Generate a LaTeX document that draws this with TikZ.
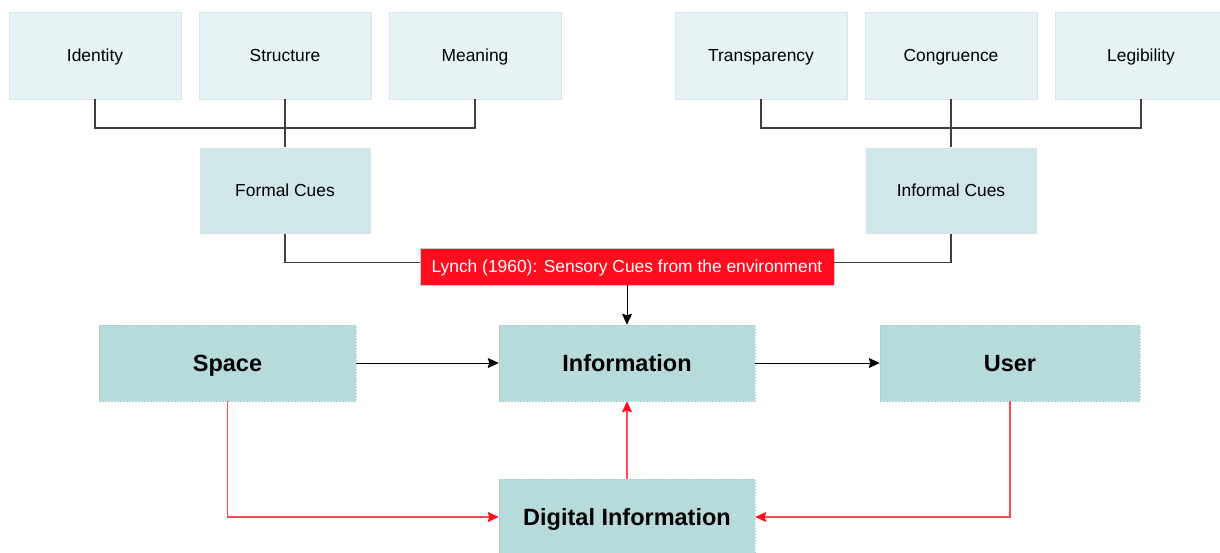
\documentclass[tikz,border=0pt]{standalone}
\usepackage{fontspec}
\setmainfont{Liberation Sans}
\usetikzlibrary{arrows.meta}
\definecolor{cuefill}{HTML}{E6F2F4}
\definecolor{cueline}{HTML}{D2E8EC}
\definecolor{groupfill}{HTML}{D0E6E9}
\definecolor{mainfill}{HTML}{B7DBDB}
\definecolor{mainline}{HTML}{A6D0D0}
\definecolor{lynchred}{HTML}{FF0D1F}
\definecolor{wire}{HTML}{404040}
\definecolor{redwire}{HTML}{FF4A55}
\tikzset{
  small text/.style={text height=12.5pt, text depth=1.5pt, font=\fontsize{17.4}{20}\selectfont},
  big text/.style={text height=16.8pt, text depth=0pt, font=\bfseries\fontsize{23.5}{27}\selectfont},
  cue/.style={draw=cueline, line width=0.8pt, fill=cuefill, minimum width=172pt, minimum height=87pt,
    inner sep=0pt, small text},
  group/.style={draw=white, line width=0.8pt, fill=groupfill, minimum width=172pt, minimum height=87pt,
    inner sep=0pt, small text},
  mainbox/.style={draw=mainline, dash pattern=on 1.5pt off 1.5pt, line width=0.5pt, fill=mainfill,
    minimum height=76pt, inner sep=0pt, big text},
  source/.style={draw=black!20, line width=0.8pt, fill=lynchred, text=white, minimum width=414pt,
    minimum height=37pt, inner sep=0pt, small text},
  tree/.style={draw=wire, line width=1.3pt},
  flow/.style={draw=black, line width=1pt, -{Stealth[length=11pt,width=10pt,inset=1.5pt]}},
  redflow/.style={draw=redwire, line width=1.2pt, -{Stealth[length=11pt,width=10pt,inset=1.5pt,color=lynchred]}}
}
\begin{document}
\begin{tikzpicture}[x=1pt,y=-1pt]
\useasboundingbox (0,0) rectangle (1220,552);

% top-level cues
\node[cue] (identity) at (95,55.5) {Identity};
\node[cue] (structure) at (285,55.5) {Structure};
\node[cue] (meaning) at (475,55.5) {Meaning};
\node[cue] (transp) at (761,55.5) {Transparency};
\node[cue] (congr) at (951,55.5) {Congruence};
\node[cue] (legib) at (1141,55.5) {Legibility};

% cue groups
\node[group] (formal) at (285,190.5) {Formal Cues};
\node[group] (informal) at (951,190.5) {Informal Cues};

% Lynch source box
\node[source] (lynch) at (627,266.5) {Lynch (1960): Sensory Cues from the environment};

% main flow boxes
\node[mainbox, minimum width=257pt] (space) at (227.5,363) {Space};
\node[mainbox, minimum width=256pt] (info) at (627,363) {Information};
\node[mainbox, minimum width=260pt] (user) at (1010,363) {User};
\node[mainbox, minimum width=256pt] (digital) at (627,517) {Digital Information};

% bus lines joining cues to their groups
\coordinate (fbus) at (285,128);
\coordinate (ibus) at (951,128);
\draw[tree] (identity.south) |- (fbus) -| (meaning.south);
\draw[tree] (structure.south) -- (formal.north);
\draw[tree] (transp.south) |- (ibus) -| (legib.south);
\draw[tree] (congr.south) -- (informal.north);

% groups to Lynch
\draw[tree] (formal.south) |- ([yshift=4pt]lynch.west);
\draw[tree] (informal.south) |- ([yshift=4pt]lynch.east);

% main flow
\draw[flow] (lynch.south) -- (info.north);
\draw[flow] (space.east) -- (info.west);
\draw[flow] (info.east) -- (user.west);

% digital information links
\draw[redflow] (space.south) |- (digital.west);
\draw[redflow] (user.south) |- (digital.east);
\draw[redflow] (digital.north) -- (info.south);
\end{tikzpicture}
\end{document}
